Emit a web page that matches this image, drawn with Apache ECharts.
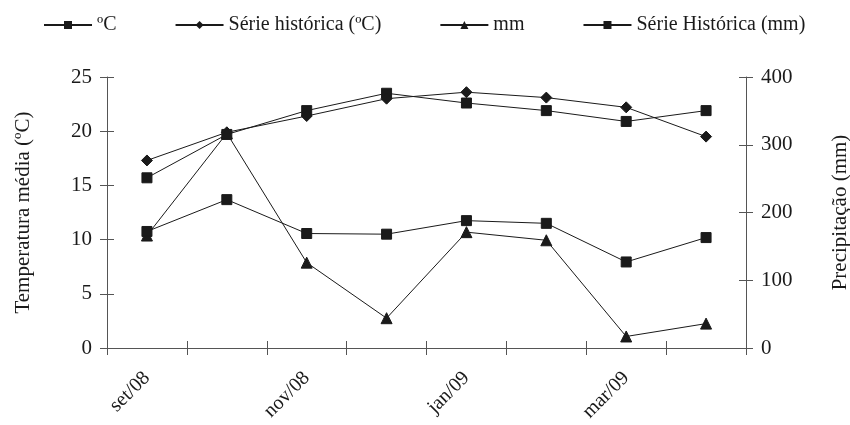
<!DOCTYPE html>
<html>
<head>
<meta charset="utf-8">
<script src="https://cdn.jsdelivr.net/npm/echarts@6/dist/echarts.min.js"></script>
<style>
  html, body { margin: 0; padding: 0; background: #fff; }
  #chart { width: 850px; height: 425px; }
</style>
</head>
<body>
<div id="chart"></div>
<script>
// Monthly categories, Sep 2008 – Apr 2009
const months = ['set/08', 'out/08', 'nov/08', 'dez/08', 'jan/09', 'fev/09', 'mar/09', 'abr/09'];

// Mean temperature (ºC), observed and historical
const tempObs = [15.7, 19.7, 21.9, 23.5, 22.6, 21.9, 20.9, 21.9];
const tempHist = [17.3, 19.9, 21.4, 23.0, 23.6, 23.1, 22.2, 19.5];

// Rainfall (mm), observed and historical
const rainObs = [166, 317, 126, 44, 171, 159, 17, 36];
const rainHist = [172, 219, 169, 168, 188, 184, 127, 163];

// Axis ticks
const tempTicks = { min: 0, max: 25, interval: 5 };
const rainTicks = { min: 0, max: 400, interval: 100 };

const FONT = 'Liberation Serif';
const INK = '#1a1a1a';
const AXIS = '#555';
const TICK_LEN = 7;

function lineSeries(name, data, symbol, yAxisIndex) {
  return {
    name: name,
    type: 'line',
    data: data,
    xAxisIndex: 0,
    yAxisIndex: yAxisIndex,
    symbol: symbol,
    symbolSize: symbol === 'rect' ? 10 : 11,
    showSymbol: true,
    lineStyle: { color: INK, width: 1 },
    itemStyle: { color: INK, borderColor: INK },
    emphasis: { disabled: true },
    z: 3
  };
}

// Value axis; the "inner" copy only draws the inward half of each tick
function valueAxis(ticks, position, extra, inner) {
  const base = {
    type: 'value',
    position: position,
    min: ticks.min,
    max: ticks.max,
    interval: ticks.interval,
    splitLine: { show: false }
  };
  if (inner) {
    return Object.assign(base, {
      axisLine: { show: false },
      axisTick: { show: true, inside: true, length: TICK_LEN, lineStyle: { color: AXIS } },
      axisLabel: { show: false }
    });
  }
  return Object.assign(base, {
    axisLine: { show: true, lineStyle: { color: AXIS, width: 1 } },
    axisTick: { show: true, length: TICK_LEN, lineStyle: { color: AXIS } },
    axisLabel: { fontFamily: FONT, fontSize: 21, color: INK, margin: 15 }
  }, extra);
}

const chart = echarts.init(document.getElementById('chart'), null, { renderer: 'canvas' });
chart.setOption({
  animation: false,
  backgroundColor: '#fff',
  textStyle: { fontFamily: FONT, color: INK },
  legend: {
    top: 10,
    left: 38,
    itemGap: 58,
    itemWidth: 48,
    itemHeight: 10,
    textStyle: { fontFamily: FONT, fontSize: 20, color: INK },
    data: ['ºC', 'Série histórica (ºC)', 'mm', 'Série Histórica (mm)']
  },
  grid: {
    left: 107, right: 104, top: 77, bottom: 77,
    containLabel: false,
    outerBoundsMode: 'none'
  },
  xAxis: [
    {
      type: 'category',
      position: 'bottom',
      data: months,
      boundaryGap: true,
      axisLine: { lineStyle: { color: AXIS, width: 1 } },
      axisTick: { show: true, interval: 0, length: TICK_LEN, lineStyle: { color: AXIS } },
      axisLabel: {
        interval: 1,
        rotate: 45,
        margin: 27,
        fontFamily: FONT,
        fontSize: 20,
        color: INK
      },
      splitLine: { show: false }
    },
    {
      type: 'category',
      position: 'bottom',
      data: months,
      boundaryGap: true,
      axisLine: { show: false },
      axisTick: { show: true, inside: true, interval: 0, length: TICK_LEN, lineStyle: { color: AXIS } },
      axisLabel: { show: false },
      splitLine: { show: false }
    }
  ],
  yAxis: [
    valueAxis(tempTicks, 'left', {
      name: 'Temperatura média (ºC)',
      nameLocation: 'middle',
      nameGap: 73,
      nameTextStyle: { fontFamily: FONT, fontSize: 21, color: INK }
    }),
    valueAxis(rainTicks, 'right', {
      name: 'Precipitação (mm)',
      nameLocation: 'middle',
      nameGap: 84,
      nameRotate: 90,
      nameTextStyle: { fontFamily: FONT, fontSize: 21, color: INK }
    }),
    valueAxis(tempTicks, 'left', null, true),
    valueAxis(rainTicks, 'right', null, true)
  ],
  series: [
    lineSeries('ºC', tempObs, 'rect', 0),
    lineSeries('Série histórica (ºC)', tempHist, 'diamond', 0),
    lineSeries('mm', rainObs, 'triangle', 1),
    lineSeries('Série Histórica (mm)', rainHist, 'rect', 1)
  ]
});
</script>
</body>
</html>
